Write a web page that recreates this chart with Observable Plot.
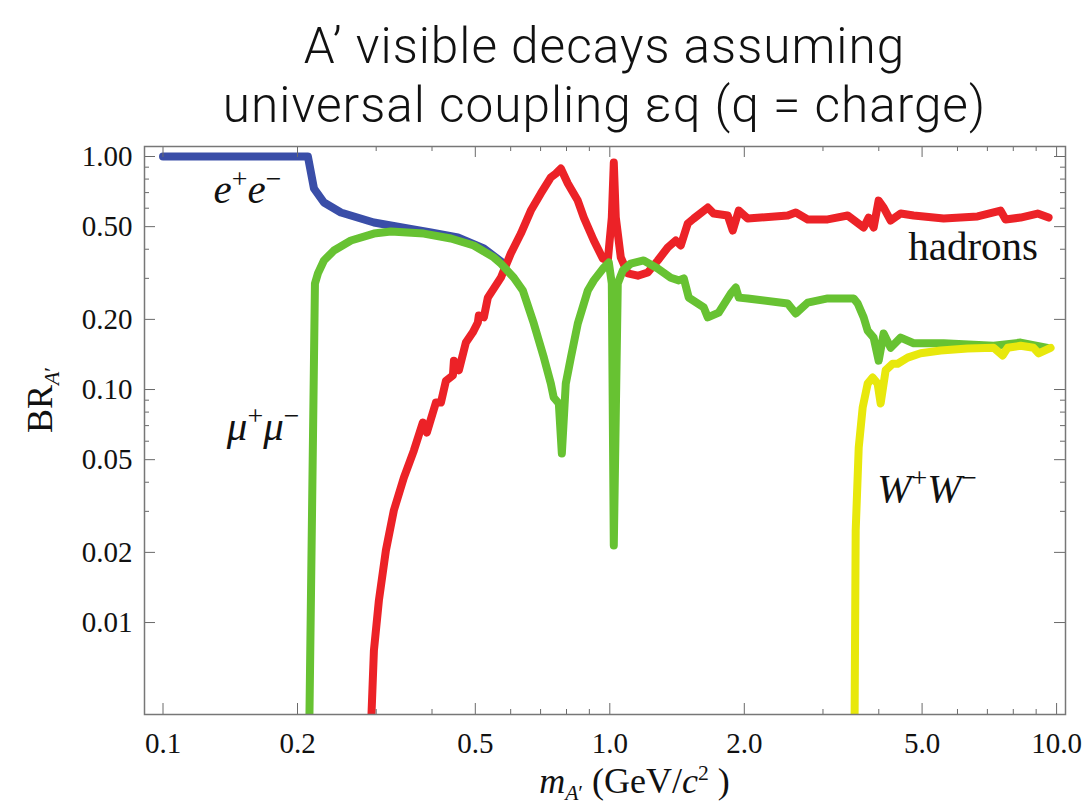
<!DOCTYPE html>
<html><head><meta charset="utf-8">
<script src="https://cdn.jsdelivr.net/npm/d3@7"></script>
<script src="https://cdn.jsdelivr.net/npm/@observablehq/plot@0.6"></script>
<style>
html,body{margin:0;padding:0;background:#fff;}
body{width:1089px;height:807px;position:relative;overflow:hidden;}
.tl{position:absolute;left:144px;width:921px;height:58px;text-align:center;font-family:Roboto,"Liberation Sans",sans-serif;font-weight:300;font-size:49.5px;line-height:58px;letter-spacing:1px;color:#111;white-space:nowrap;}
#t1{top:17px;}
#t2{top:76px;}
#chart{position:absolute;left:0;top:134px;}
</style></head><body>
<div class="tl" id="t1">A’ visible decays assuming</div>
<div class="tl" id="t2">universal coupling εq (q = charge)</div>
<div id="chart"></div>
<script>
// ---- data ----
const eeMass = [0.1, 0.211, 0.2177, 0.2292, 0.2501, 0.2965, 0.3532, 0.3977, 0.4571, 0.5225, 0.5793];
const eeBR   = [1.0, 1.0, 0.729, 0.635, 0.575, 0.521, 0.491, 0.472, 0.449, 0.403, 0.347];

const mumuMass = [0.2125,0.2188,0.2222,0.2292,0.2413,0.2634,0.2965,0.3236,0.3835,0.4409,0.4962,0.5502,0.5704,0.6099,0.6388,0.676,0.712,0.738,0.749,0.769,0.781,0.797,0.818,0.848,0.893,0.921,0.970,0.995,1.0104,1.0208,1.042,1.069,1.114,1.191,1.280,1.369,1.427,1.464,1.502,1.623,1.657,1.753,1.865,1.914,1.944,2.036,2.501,2.607,2.773,3.074,3.515,3.588,3.700,3.777,3.895,3.997,4.101,4.252,4.477,4.787,5.588,7.229,8.309,9.548];
const mumuBR   = [0.0035,0.285,0.315,0.358,0.395,0.436,0.467,0.477,0.467,0.445,0.415,0.369,0.347,0.302,0.266,0.192,0.137,0.106,0.0924,0.0871,0.0531,0.106,0.137,0.192,0.266,0.294,0.334,0.351,0.285,0.0214,0.285,0.324,0.347,0.358,0.331,0.302,0.294,0.300,0.248,0.225,0.204,0.214,0.258,0.274,0.248,0.246,0.234,0.212,0.236,0.246,0.246,0.234,0.204,0.179,0.167,0.133,0.174,0.151,0.167,0.158,0.158,0.154,0.159,0.151];

const hadMass = [0.292,0.2965,0.3042,0.3154,0.3286,0.3460,0.3643,0.3816,0.3895,0.4081,0.4188,0.4297,0.4455,0.4478,0.4594,0.4763,0.4937,0.5066,0.5092,0.5225,0.5334,0.5704,0.6005,0.6323,0.6657,0.7008,0.7379,0.7571,0.7770,0.8055,0.8478,0.8747,0.9209,0.9645,0.9897,1.0104,1.0208,1.0314,1.0583,1.0970,1.1552,1.2163,1.2804,1.3481,1.4049,1.4416,1.4945,1.5415,1.6569,1.7088,1.8365,1.8843,1.9436,2.0355,2.1771,2.5013,2.6072,2.7733,3.0744,3.4075,3.7001,3.7966,3.8953,3.9968,4.1014,4.2521,4.4770,4.7867,5.5876,6.6563,7.4937,7.6885,8.3087,9.0676,9.5966];
const hadBR   = [0.0035,0.00758,0.01243,0.0204,0.0303,0.0419,0.0547,0.0722,0.0654,0.0879,0.0879,0.109,0.115,0.133,0.121,0.159,0.176,0.194,0.208,0.204,0.248,0.302,0.384,0.467,0.586,0.694,0.813,0.845,0.888,0.766,0.647,0.547,0.436,0.365,0.358,0.547,0.942,0.547,0.369,0.315,0.308,0.318,0.358,0.407,0.436,0.415,0.516,0.542,0.604,0.569,0.558,0.481,0.586,0.542,0.547,0.558,0.575,0.537,0.537,0.558,0.496,0.547,0.496,0.647,0.604,0.531,0.569,0.558,0.542,0.553,0.586,0.537,0.547,0.569,0.547];

const wwMass = [3.53,3.551,3.607,3.681,3.777,3.875,3.976,4.038,4.144,4.296,4.408,4.642,4.962,5.502,6.323,7.229,7.571,7.768,8.309,8.882,9.114,9.696];
const wwBR   = [0.0035,0.0248,0.0564,0.0837,0.106,0.1126,0.106,0.0871,0.121,0.129,0.129,0.137,0.143,0.147,0.150,0.151,0.140,0.151,0.154,0.151,0.143,0.151];

const xMajorTicks = [0.1, 0.2, 0.5, 1, 2, 5, 10];
const xTickLabels = ["0.1", "0.2", "0.5", "1.0", "2.0", "5.0", "10.0"];
const xMinorTicks = [0.3, 0.4, 0.6, 0.7, 0.8, 0.9, 3, 4, 6, 7, 8, 9];
const yMajorTicks = [1, 0.5, 0.2, 0.1, 0.05, 0.02, 0.01];
const yTickLabels = ["1.00", "0.50", "0.20", "0.10", "0.05", "0.02", "0.01"];
const yMinorTicks = [0.9, 0.8, 0.7, 0.6, 0.4, 0.3, 0.09, 0.08, 0.07, 0.06, 0.04, 0.03];

const curveLabels = [
  {m: 0.155, br: 0.629, parts: [{t:"e", i:1}, {t:"+", sup:1}, {t:"e", i:1}, {t:"−", sup:1}]},
  {m: 0.168, br: 0.0604, parts: [{t:"μ", i:1}, {t:"+", sup:1}, {t:"μ", i:1}, {t:"−", sup:1}]},
  {m: 6.52, br: 0.358, parts: [{t:"hadrons"}]},
  {m: 5.145, br: 0.0327, parts: [{t:"W", i:1}, {t:"+", sup:1}, {t:"W", i:1}, {t:"−", sup:1}]}
];

// ---- chart ----
const zip = (ms, bs) => ms.map((m, i) => ({m, br: bs[i]}));
const W = 1089, H = 673, ML = 144, MR = 24, MT = 12, MB = 93;
const innerW = W - ML - MR, innerH = H - MT - MB;
const lineOpts = {x: "m", y: "br", strokeWidth: 8, clip: true, strokeLinejoin: "round"};
const tickColor = "#6a6a6a";

const chart = Plot.plot({
  width: W, height: H,
  marginLeft: ML, marginRight: MR, marginTop: MT, marginBottom: MB,
  style: {fontFamily: "'Liberation Serif', serif", fontSize: "29px", color: "#111", background: "#fff", overflow: "visible"},
  x: {type: "log", domain: [0.0909, 10.47]},
  y: {type: "log", domain: [0.00403, 1.104]},
  marks: [
    Plot.line(zip(eeMass, eeBR), {...lineOpts, stroke: "#3a4ea8"}),
    Plot.line(zip(hadMass, hadBR), {...lineOpts, stroke: "#ec2227"}),
    Plot.line(zip(mumuMass, mumuBR), {...lineOpts, stroke: "#67c232"}),
    Plot.line(zip(wwMass, wwBR), {...lineOpts, stroke: "#e8e80c"}),
    // inward frame ticks
    Plot.tickX(xMajorTicks, {x: d => d, stroke: tickColor, insetTop: innerH - 11}),
    Plot.tickX(xMajorTicks, {x: d => d, stroke: tickColor, insetBottom: innerH - 11}),
    Plot.tickX(xMinorTicks, {x: d => d, stroke: tickColor, insetTop: innerH - 5}),
    Plot.tickX(xMinorTicks, {x: d => d, stroke: tickColor, insetBottom: innerH - 5}),
    Plot.tickY(yMajorTicks, {y: d => d, stroke: tickColor, insetRight: innerW - 11}),
    Plot.tickY(yMajorTicks, {y: d => d, stroke: tickColor, insetLeft: innerW - 11}),
    Plot.tickY(yMinorTicks, {y: d => d, stroke: tickColor, insetRight: innerW - 5}),
    Plot.tickY(yMinorTicks, {y: d => d, stroke: tickColor, insetLeft: innerW - 5}),
    Plot.frame({stroke: "#777", strokeWidth: 1.5}),
    Plot.axisX(xMajorTicks, {tickSize: 0, tickPadding: 18, fontSize: 29, label: null,
      tickFormat: d => xTickLabels[xMajorTicks.indexOf(d)]}),
    Plot.axisY(yMajorTicks, {tickSize: 0, tickPadding: 12, fontSize: 29, label: null,
      tickFormat: d => yTickLabels[yMajorTicks.indexOf(d)]})
  ]
});
document.getElementById("chart").appendChild(chart);

// ---- rich text labels (superscripts / subscripts) ----
const svg = d3.select(chart);
const g = svg.append("g").attr("font-family", "'Liberation Serif', serif").attr("fill", "#111");
function richText(x, y, parts, size, extra) {
  const t = g.append("text").attr("x", x).attr("y", y).attr("font-size", size).attr("text-anchor", "middle");
  if (extra) extra(t);
  let shift = 0;
  for (const p of parts) {
    const ts = t.append("tspan").text(p.t);
    const target = p.sup ? -0.36 * size : p.sub ? 0.2 * size : 0;
    ts.attr("dy", target - shift);
    shift = target;
    if (p.sup || p.sub) ts.attr("font-size", size * (p.ss || 0.68));
    if (p.i) ts.attr("font-style", "italic");
  }
  return t;
}
const sx = chart.scale("x"), sy = chart.scale("y");
for (const L of curveLabels) richText(sx.apply(L.m), sy.apply(L.br), L.parts, 41);

// axis titles
richText(ML + innerW / 2 + 30, H - 14, [
  {t: "m", i: 1}, {t: "A", sub: 1, i: 1, ss: 0.6}, {t: "′", sub: 1, ss: 0.6}, {t: " (GeV/"}, {t: "c", i: 1}, {t: "2", sup: 1, ss: 0.6}, {t: " )"}
], 36);
richText(0, 0, [{t: "BR"}, {t: "A", sub: 1, i: 1, ss: 0.6}, {t: "′", sub: 1, ss: 0.6}], 36,
  t => t.attr("transform", "translate(52,266) rotate(-90)"));
</script>
</body></html>
